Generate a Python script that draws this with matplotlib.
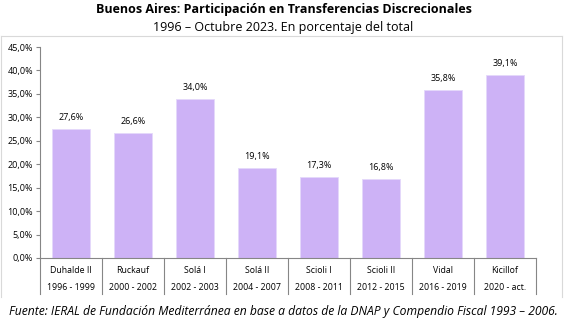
import matplotlib.pyplot as plt
from matplotlib.lines import Line2D

# datos: participacion en transferencias discrecionales
gobernadores = ['Duhalde II', 'Ruckauf', 'Solá I', 'Solá II', 'Scioli I', 'Scioli II', 'Vidal', 'Kicillof']
periodos = ['1996 - 1999', '2000 - 2002', '2002 - 2003', '2004 - 2007', '2008 - 2011', '2012 - 2015', '2016 - 2019', '2020 - act.']
valores = [27.6, 26.6, 34.0, 19.1, 17.3, 16.8, 35.8, 39.1]
yticks = [0, 5, 10, 15, 20, 25, 30, 35, 40, 45]

plt.rcParams['font.family'] = ['Open Sans', 'DejaVu Sans']

fig = plt.figure(figsize=(5.67, 3.36), dpi=100)
ax = fig.add_axes([40 / 567, 1 - 258 / 336, 496 / 567, 211 / 336])

x = range(len(valores))
ax.bar(x, valores, width=0.6, color='#cdb2f6', edgecolor='#e4d8fa', linewidth=0.6)
for i, v in enumerate(valores):
    ax.text(i, v + 1.5, f'{v:.1f}%'.replace('.', ','), ha='center', va='bottom', fontsize=6.5)

ax.set_xlim(-0.5, len(valores) - 0.5)
ax.set_ylim(0, 45)
ax.set_yticks(yticks)
ax.set_yticklabels([f'{t:.1f}%'.replace('.', ',') for t in yticks], fontsize=6.5)
ax.set_xticks([])
for s in ['top', 'right']:
    ax.spines[s].set_visible(False)
ax.spines['left'].set_color('#868686')
ax.spines['bottom'].set_color('#868686')
ax.tick_params(axis='y', length=3, color='#868686', pad=2)

# tabla debajo del eje
for i in range(len(valores) + 1):
    ax.plot([i - 0.5, i - 0.5], [0, -7.7], color='#868686', lw=0.8, clip_on=False)
for i, (g, p) in enumerate(zip(gobernadores, periodos)):
    ax.text(i, -2.6, g, ha='center', va='center', fontsize=6.3)
    ax.text(i, -6.3, p, ha='center', va='center', fontsize=6.3)

# borde del grafico
for xs, ys in [([1, 562], [36, 36]), ([562, 562], [36, 297]), ([1, 1], [36, 297])]:
    fig.add_artist(Line2D([v / 567 for v in xs], [1 - v / 336 for v in ys], color='#d9d9d9', lw=0.8))

fig.text(0.5, 1 - 9 / 336, 'Buenos Aires: Participación en Transferencias Discrecionales',
         ha='center', va='center', fontsize=9, fontweight='bold')
fig.text(0.5, 1 - 27 / 336, '1996 – Octubre 2023. En porcentaje del total',
         ha='center', va='center', fontsize=9)
fig.text(0.5, 1 - 311 / 336,
         'Fuente: IERAL de Fundación Mediterránea en base a datos de la DNAP y Compendio Fiscal 1993 – 2006.',
         ha='center', va='center', fontsize=8.7, style='italic')

fig.savefig('out.png', dpi=100)
